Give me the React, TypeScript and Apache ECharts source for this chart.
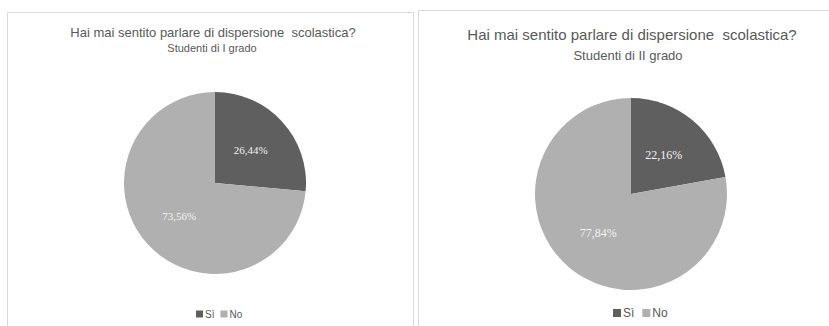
import React, { useEffect, useRef } from "react";
import * as echarts from "echarts";

const categories = ["Sì", "No"];
const valuesGrado1 = [26.44, 73.56];
const valuesGrado2 = [22.16, 77.84];
const titleText = "Hai mai sentito parlare di dispersione  scolastica?";
const subtitle1 = "Studenti di I grado";
const subtitle2 = "Studenti di II grado";
const colors = ["#5f5f5f", "#b0b0b0"];

const fmt = (p: any) => Number(p.value).toFixed(2).replace(".", ",") + "%";

export default function App() {
  const ref = useRef<HTMLDivElement>(null);
  useEffect(() => {
    if (!ref.current) return;
    const chart = echarts.init(ref.current, undefined, { renderer: "svg" });
    const mkData = (vals: number[]) =>
      categories.map((c, i) => ({ name: c, value: vals[i], itemStyle: { color: colors[i] } }));
    const sans = "Liberation Sans";
    chart.setOption({
      animation: false,
      backgroundColor: "#ffffff",
      graphic: [
        { type: "rect", shape: { x: 7.5, y: 12.5, width: 406, height: 330 }, style: { fill: "none", stroke: "#d9d9d9", lineWidth: 1 }, z: 0 },
        { type: "rect", shape: { x: 418.5, y: 10.5, width: 430, height: 330 }, style: { fill: "none", stroke: "#d9d9d9", lineWidth: 1 }, z: 0 },
        { type: "text", x: 213, y: 32, style: { text: titleText, fill: "#595959", font: `13px '${sans}'`, textAlign: "center", textVerticalAlign: "middle" } },
        { type: "text", x: 212, y: 48, style: { text: subtitle1, fill: "#595959", font: `11px '${sans}'`, textAlign: "center", textVerticalAlign: "middle" } },
        { type: "text", x: 632, y: 34, style: { text: titleText, fill: "#595959", font: `15px '${sans}'`, textAlign: "center", textVerticalAlign: "middle" } },
        { type: "text", x: 628, y: 55, style: { text: subtitle2, fill: "#595959", font: `13px '${sans}'`, textAlign: "center", textVerticalAlign: "middle" } },
      ],
      legend: [
        {
          data: categories, left: 191, top: 304, itemWidth: 7, itemHeight: 7, itemGap: 6, icon: "rect",
          textStyle: { color: "#595959", fontSize: 10, fontFamily: sans, padding: [0, 0, 0, -3] }, selectedMode: false,
        },
        {
          data: categories, left: 608, top: 302, itemWidth: 8, itemHeight: 8, itemGap: 8, icon: "rect",
          textStyle: { color: "#595959", fontSize: 12, fontFamily: sans, padding: [0, 0, 0, -3] }, selectedMode: false,
        },
      ],
      series: [
        {
          type: "pie", center: [215, 183], radius: 91, startAngle: 90, clockwise: true, silent: true,
          data: mkData(valuesGrado1),
          label: { position: "inside", formatter: fmt, color: "#f2f2f2", fontSize: 11, fontFamily: "Liberation Serif" },
          labelLine: { show: false }, itemStyle: { borderWidth: 0 }, emphasis: { disabled: true },
        },
        {
          type: "pie", center: [631, 194], radius: 96, startAngle: 90, clockwise: true, silent: true,
          data: mkData(valuesGrado2),
          label: { position: "inside", formatter: fmt, color: "#f2f2f2", fontSize: 12, fontFamily: "Liberation Serif" },
          labelLine: { show: false }, itemStyle: { borderWidth: 0 }, emphasis: { disabled: true },
        },
      ],
    });
    return () => chart.dispose();
  }, []);
  return <div ref={ref} style={{ position: "fixed", left: 0, top: 0, width: 829, height: 326 }} />;
}
